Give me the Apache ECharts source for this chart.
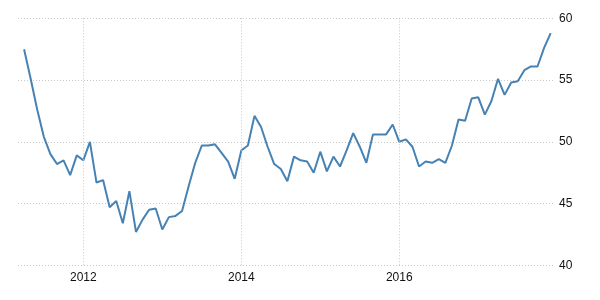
<!DOCTYPE html>
<html>
<head>
<meta charset="utf-8">
<script src="https://cdn.jsdelivr.net/npm/echarts@6/dist/echarts.min.js"></script>
<style>html,body{margin:0;padding:0;background:#fff}#c{width:600px;height:300px}</style>
</head>
<body>
<div id="c"></div>
<script>
const months = [
 '2011-04','2011-05','2011-06','2011-07','2011-08','2011-09','2011-10','2011-11','2011-12',
 '2012-01','2012-02','2012-03','2012-04','2012-05','2012-06','2012-07','2012-08','2012-09','2012-10','2012-11','2012-12',
 '2013-01','2013-02','2013-03','2013-04','2013-05','2013-06','2013-07','2013-08','2013-09','2013-10','2013-11','2013-12',
 '2014-01','2014-02','2014-03','2014-04','2014-05','2014-06','2014-07','2014-08','2014-09','2014-10','2014-11','2014-12',
 '2015-01','2015-02','2015-03','2015-04','2015-05','2015-06','2015-07','2015-08','2015-09','2015-10','2015-11','2015-12',
 '2016-01','2016-02','2016-03','2016-04','2016-05','2016-06','2016-07','2016-08','2016-09','2016-10','2016-11','2016-12',
 '2017-01','2017-02','2017-03','2017-04','2017-05','2017-06','2017-07','2017-08','2017-09','2017-10','2017-11','2017-12'
];
const values = [
 57.5,55.1,52.6,50.4,49.0,48.2,48.5,47.3,48.9,
 48.5,50.0,46.7,46.9,44.7,45.2,43.4,46.0,42.7,43.7,44.5,44.6,
 42.9,43.9,44.0,44.4,46.4,48.3,49.7,49.7,49.8,49.1,48.4,47.0,
 49.3,49.7,52.1,51.2,49.6,48.2,47.8,46.8,48.8,48.5,48.4,47.5,
 49.2,47.6,48.8,48.0,49.3,50.7,49.6,48.3,50.6,50.6,50.6,51.4,
 50.0,50.2,49.6,48.0,48.4,48.3,48.6,48.3,49.7,51.8,51.7,53.5,
 53.6,52.2,53.3,55.1,53.8,54.8,54.9,55.8,56.1,56.1,57.6,58.8
];
const yearLabels = [2012, 2014, 2016];
const yTicks = [40, 45, 50, 55, 60];

function toYear(m){ const p = m.split('-'); return +p[0] + (+p[1]-1)/12; }
const points = months.map((m,i)=>[toYear(m), values[i]]);

const chart = echarts.init(document.getElementById('c'), null, {renderer:'canvas'});
const font = 'Arial, "Liberation Sans", sans-serif';
chart.setOption({
  animation:false,
  grid:{left:18, right:47, top:18.3, bottom:34.7, containLabel:false},
  xAxis:{
    type:'value', min:2011.173, max:2017.946,
    axisLine:{show:false}, axisTick:{show:false},
    splitLine:{show:false},
    axisLabel:{customValues:yearLabels, color:'#111', fontSize:12, fontFamily:font, margin:6,
      formatter:v=>String(Math.round(v))}
  },
  yAxis:{
    type:'value', position:'right', min:yTicks[0], max:yTicks[yTicks.length-1], interval:5,
    axisLine:{show:false}, axisTick:{show:false},
    axisLabel:{color:'#111', fontSize:12, fontFamily:font, margin:6},
    splitLine:{show:true, lineStyle:{color:'#c8c8c8', type:[1,2], width:1}}
  },
  series:[{
    type:'line', data:points, symbol:'none', smooth:false,
    lineStyle:{color:'#4682b4', width:2},
    markLine:{silent:true, symbol:'none', label:{show:false},
      lineStyle:{color:'#c8c8c8', type:[1,2], width:1},
      emphasis:{disabled:true},
      data: yearLabels.map(y=>({xAxis:y}))},
    z:3
  }]
});
</script>
</body>
</html>
